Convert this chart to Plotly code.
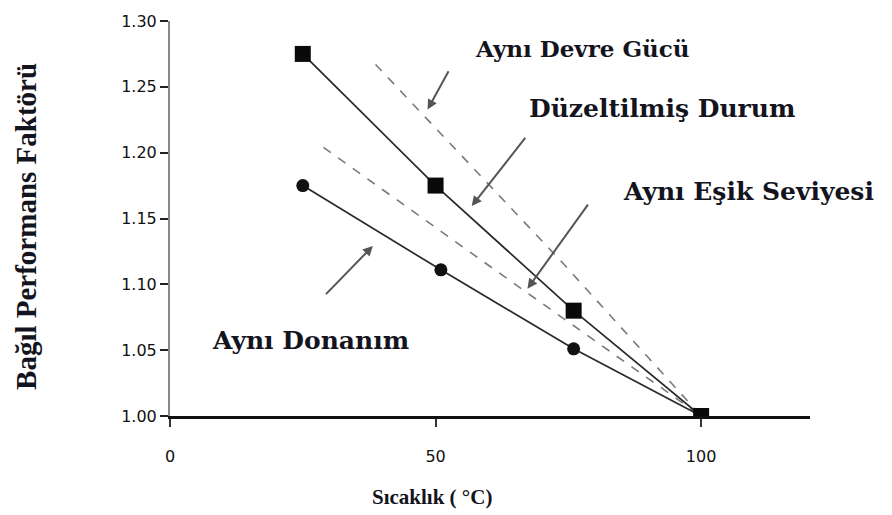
import plotly.graph_objects as go

# Data
# Düzeltilmiş Durum (solid, squares)
adj_x = [25, 50, 76, 100]
adj_y = [1.275, 1.175, 1.080, 1.000]
# Aynı Donanım (solid, circles)
hw_x = [25, 51, 76, 100]
hw_y = [1.175, 1.111, 1.051, 1.000]
# Aynı Eşik Seviyesi (dashed)
thr_x = [28.9, 63.6, 100]
thr_y = [1.204, 1.104, 1.000]
# Aynı Devre Gücü (dashed)
pow_x = [38.7, 74, 100]
pow_y = [1.267, 1.116, 1.000]

y_ticks = [1.00, 1.05, 1.10, 1.15, 1.20, 1.25, 1.30]
y_tick_text = ["1.00", "1.05", "1.10", "1.15", "1.20", "1.25", "1.30"]
x_ticks = [0, 50, 100]
x_tick_text = ["0", "50", "100"]

L, R, T, B = 170, 82, 19, 99
W, H = 892, 515
pw = W - L - R
ph = H - T - B

fig = go.Figure()
fig.add_trace(go.Scatter(x=pow_x, y=pow_y, mode="lines",
                         line=dict(color="#7a7a7a", width=1.6, dash="dash"), showlegend=False))
fig.add_trace(go.Scatter(x=thr_x, y=thr_y, mode="lines",
                         line=dict(color="#7a7a7a", width=1.6, dash="dash"), showlegend=False))
fig.add_trace(go.Scatter(x=hw_x, y=hw_y, mode="lines+markers",
                         line=dict(color="#2a2a2a", width=1.7),
                         marker=dict(symbol="circle", size=13, color="#111111",
                                     line=dict(width=0)), showlegend=False))
fig.add_trace(go.Scatter(x=adj_x, y=adj_y, mode="lines+markers",
                         line=dict(color="#2a2a2a", width=1.7),
                         marker=dict(symbol="square", size=16, color="#0a0a0a",
                                     opacity=1, line=dict(width=0)),
                         showlegend=False))

labels = [
    ("Aynı Devre Gücü", 57.1, 1.2789, 23),
    ("Düzeltilmiş Durum", 67.3, 1.2335, 25),
    ("Aynı Eşik Seviyesi", 85.0, 1.1708, 25),
    ("Aynı Donanım", 7.5, 1.0574, 25),
]
for t, x, y, s in labels:
    fig.add_annotation(x=x, y=y, xref="x", yref="y", text="<b>%s</b>" % t,
                       xanchor="left", showarrow=False,
                       font=dict(family="DejaVu Serif", size=s, color="#141420"))

arrows = [
    (48.5, 1.2327, 52.6, 1.263),
    (56.8, 1.1594, 67.1, 1.2123),
    (67.3, 1.0967, 78.9, 1.1617),
    (38.2, 1.1292, 29.1, 1.0914),
]
for hx, hy, tx, ty in arrows:
    fig.add_annotation(x=hx, y=hy, ax=tx, ay=ty, xref="x", yref="y", axref="x", ayref="y",
                       text="", showarrow=True, arrowhead=2, arrowsize=1, arrowwidth=2,
                       arrowcolor="#555555")

fig.add_annotation(x=(432 - L) / pw, y=-(497 - (H - B)) / ph, xref="paper", yref="paper",
                   text="<b>Sıcaklık ( °C)</b>", showarrow=False, xanchor="center", yanchor="middle",
                   font=dict(family="Liberation Serif", size=21, color="#141420"))
fig.add_annotation(x=(26 - L) / pw, y=((H - B) - 226) / ph, xref="paper", yref="paper",
                   text="<b>Bağıl Performans Faktörü</b>", showarrow=False, textangle=-90,
                   xanchor="center", yanchor="middle",
                   font=dict(family="Liberation Serif", size=29, color="#141420"))

fig.update_layout(
    width=W, height=H,
    margin=dict(l=L, r=R, t=T, b=B),
    paper_bgcolor="white", plot_bgcolor="white",
    xaxis=dict(range=[0, 120.5], tickvals=x_ticks, ticktext=x_tick_text,
               showgrid=False, zeroline=False, showline=True, linecolor="#111111", linewidth=3,
               ticks="outside", ticklen=8, tickwidth=2, tickcolor="#333333",
               tickfont=dict(family="DejaVu Sans", size=16, color="#111111"),
               ticklabelstandoff=16),
    yaxis=dict(range=[1.0, 1.30], tickvals=y_ticks, ticktext=y_tick_text,
               showgrid=False, zeroline=False, showline=True, linecolor="#888888", linewidth=2,
               ticks="outside", ticklen=8, tickwidth=2, tickcolor="#222222",
               tickfont=dict(family="DejaVu Sans", size=16, color="#111111")),
)

fig.write_html("out.html")
